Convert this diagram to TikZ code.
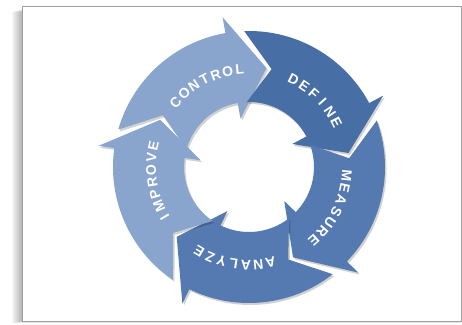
\documentclass[tikz,border=0pt]{standalone}
\usepackage{fontspec}
\setmainfont{Liberation Sans}
\definecolor{lightstep}{RGB}{137,164,205}
\definecolor{darkstep}{RGB}{72,110,166}
\definecolor{midstep}{RGB}{84,122,177}
\tikzstyle{frame} = [draw=gray!75, line width=0.9pt, fill=white]
\tikzstyle{stepshadow} = [fill=black, opacity=0.18]
\tikzstyle{letter} = [inner sep=0pt, text=white, font=\fontsize{14}{16}\selectfont\bfseries]

\begin{document}
\begin{tikzpicture}[x=1pt,y=1pt]
\useasboundingbox (-249,-157) rectangle (213,167);
% soft shadow of the frame
\foreach \k in {1,...,10}
  \fill[black,opacity=0.03] (-227-\k,158-\k*0.3) rectangle (212,-154-\k*0.2);
\draw[frame] (-227,161) rectangle (212,-154);
% ring of five arrows
\def\rin{65} \def\rout{136} \def\rmid{100.5} \def\barb{16} \def\headlen{20}
\foreach \tip/\col/\word/\n in {80/lightstep/{C,O,N,T,R,O,L}/7, 8/darkstep/{D,E,F,I,N,E}/6, -64/midstep/{M,E,A,S,U,R,E}/7, -136/midstep/{A,N,A,L,Y,Z,E}/7, -208/lightstep/{I,M,P,R,O,V,E}/7}{
  \pgfmathsetmacro\base{\tip+\headlen}
  \pgfmathsetmacro\tail{\tip+84}
  \pgfmathsetmacro\notch{\tip+69}
  \fill[stepshadow, shift={(1.5,-2)}] (\tail:\rout) arc[start angle=\tail, end angle=\base, radius=\rout] -- (\base:{\rout+\barb}) -- (\tip:\rmid) -- (\base:{\rin-\barb}) -- (\base:\rin) arc[start angle=\base, end angle=\tail, radius=\rin] -- (\notch:\rmid) -- cycle;
  \fill[\col] (\tail:\rout) arc[start angle=\tail, end angle=\base, radius=\rout] -- (\base:{\rout+\barb}) -- (\tip:\rmid) -- (\base:{\rin-\barb}) -- (\base:\rin) arc[start angle=\base, end angle=\tail, radius=\rin] -- (\notch:\rmid) -- cycle;
  % label, one letter at a time along the ring
  \foreach \ch [count=\i] in \word {
    \pgfmathsetmacro\ang{\tip+37+(\n+1)/2*7.2-\i*7.2}
    \node (w\tip-\i) [letter, rotate=\ang-90] at (\ang:98) {\ch};
  }
}
\end{tikzpicture}
\end{document}
